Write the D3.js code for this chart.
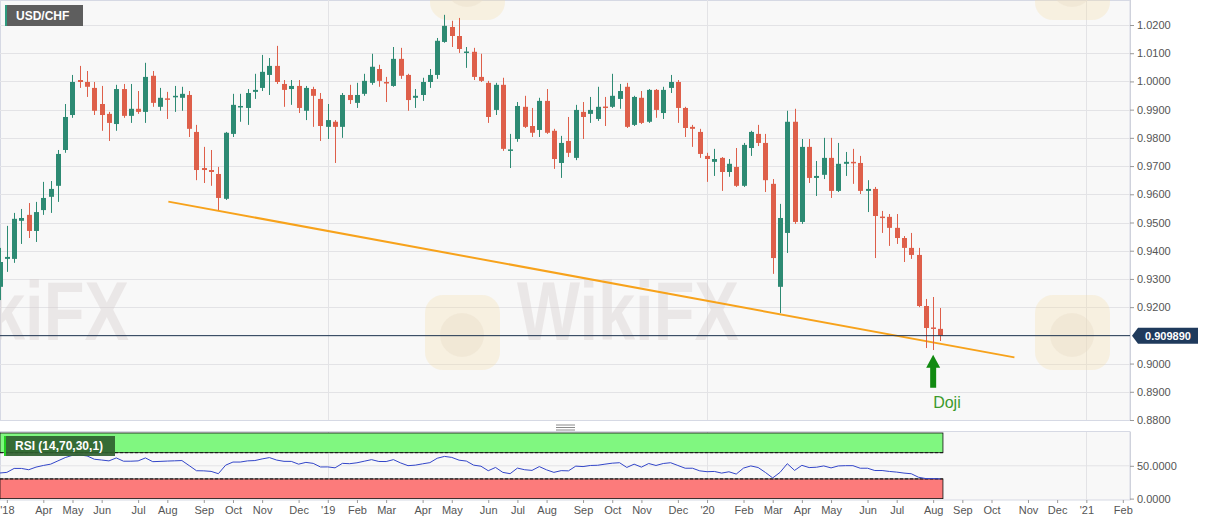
<!DOCTYPE html>
<html>
<head>
<meta charset="utf-8">
<script src="https://cdn.jsdelivr.net/npm/d3@7"></script>
<style>
  body { margin: 0; background: #fff; }
  svg { display: block; font-family: Arial, "Liberation Sans", sans-serif; }
</style>
</head>
<body>
<div id="chart"></div>
<script>
// ---- data (weekly USD/CHF) ----
var symbol = 'USD/CHF';
var firstWeek = '2018-02-19';
// [open, high, low, close], one row per weekly bar
var ohlc = [
  [0.9272, 0.9410, 0.9225, 0.9360], [0.9371, 0.9488, 0.9325, 0.9378], [0.9371, 0.9534, 0.9357, 0.9513],
  [0.9506, 0.9548, 0.9424, 0.9516], [0.9527, 0.9569, 0.9445, 0.9470], [0.9470, 0.9573, 0.9431, 0.9537],
  [0.9544, 0.9644, 0.9527, 0.9587], [0.9591, 0.9647, 0.9534, 0.9619], [0.9630, 0.9757, 0.9573, 0.9743],
  [0.9757, 0.9920, 0.9747, 0.9874], [0.9881, 1.0023, 0.9871, 0.9998], [1.0005, 1.0055, 0.9977, 0.9998],
  [0.9998, 1.0037, 0.9945, 0.9981], [0.9977, 0.9998, 0.9881, 0.9896], [0.9920, 0.9984, 0.9825, 0.9881],
  [0.9885, 0.9892, 0.9789, 0.9853], [0.9849, 0.9988, 0.9825, 0.9973], [0.9973, 0.9991, 0.9871, 0.9878],
  [0.9878, 0.9991, 0.9853, 0.9903], [0.9903, 0.9966, 0.9885, 0.9892], [0.9892, 1.0066, 0.9853, 1.0016],
  [1.0020, 1.0037, 0.9910, 0.9924], [0.9910, 0.9977, 0.9896, 0.9942], [0.9940, 0.9963, 0.9867, 0.9936],
  [0.9945, 0.9984, 0.9892, 0.9949], [0.9942, 0.9981, 0.9896, 0.9956], [0.9952, 0.9966, 0.9803, 0.9832],
  [0.9821, 0.9846, 0.9650, 0.9686], [0.9693, 0.9768, 0.9640, 0.9686], [0.9686, 0.9757, 0.9630, 0.9679],
  [0.9672, 0.9697, 0.9544, 0.9587], [0.9584, 0.9821, 0.9580, 0.9818], [0.9814, 0.9956, 0.9803, 0.9917],
  [0.9910, 0.9956, 0.9857, 0.9913], [0.9906, 0.9973, 0.9846, 0.9959], [0.9963, 1.0027, 0.9938, 0.9970],
  [0.9977, 1.0094, 0.9966, 1.0034], [1.0023, 1.0083, 0.9952, 1.0055], [1.0055, 1.0126, 0.9991, 0.9998],
  [0.9991, 1.0005, 0.9910, 0.9970], [0.9973, 1.0005, 0.9917, 0.9984], [0.9984, 1.0005, 0.9888, 0.9906],
  [0.9896, 0.9984, 0.9863, 0.9977], [0.9973, 0.9981, 0.9839, 0.9949], [0.9938, 0.9959, 0.9789, 0.9842],
  [0.9839, 0.9920, 0.9796, 0.9863], [0.9857, 0.9863, 0.9711, 0.9839], [0.9839, 0.9959, 0.9800, 0.9952],
  [0.9952, 0.9988, 0.9920, 0.9934], [0.9924, 0.9995, 0.9906, 0.9952], [0.9956, 1.0027, 0.9949, 1.0002],
  [0.9995, 1.0098, 0.9988, 1.0052], [1.0044, 1.0059, 0.9981, 1.0002], [0.9998, 1.0016, 0.9927, 0.9995],
  [0.9984, 1.0122, 0.9981, 1.0080], [1.0080, 1.0119, 1.0009, 1.0020], [1.0023, 1.0027, 0.9896, 0.9934],
  [0.9942, 0.9973, 0.9906, 0.9949], [0.9952, 1.0013, 0.9931, 0.9998], [0.9998, 1.0044, 0.9977, 1.0023],
  [1.0023, 1.0154, 1.0009, 1.0144], [1.0140, 1.0236, 1.0137, 1.0197], [1.0193, 1.0215, 1.0122, 1.0161],
  [1.0161, 1.0225, 1.0101, 1.0115], [1.0103, 1.0122, 1.0048, 1.0106], [1.0105, 1.0119, 1.0005, 1.0016],
  [1.0016, 1.0098, 0.9998, 1.0002], [0.9995, 1.0002, 0.9853, 0.9874], [0.9899, 0.9995, 0.9881, 0.9988],
  [0.9988, 1.0013, 0.9754, 0.9761], [0.9755, 0.9814, 0.9693, 0.9759], [0.9796, 0.9927, 0.9786, 0.9913],
  [0.9910, 0.9949, 0.9835, 0.9839], [0.9842, 0.9906, 0.9803, 0.9818], [0.9828, 0.9942, 0.9803, 0.9931],
  [0.9931, 0.9973, 0.9814, 0.9818], [0.9825, 0.9832, 0.9690, 0.9725], [0.9711, 0.9807, 0.9658, 0.9782],
  [0.9789, 0.9874, 0.9732, 0.9747], [0.9729, 0.9917, 0.9721, 0.9899], [0.9892, 0.9927, 0.9796, 0.9874],
  [0.9885, 0.9945, 0.9853, 0.9899], [0.9867, 0.9981, 0.9860, 0.9910], [0.9911, 0.9945, 0.9842, 0.9908],
  [0.9910, 1.0027, 0.9906, 0.9949], [0.9938, 0.9991, 0.9903, 0.9966], [0.9981, 0.9995, 0.9835, 0.9839],
  [0.9846, 0.9949, 0.9842, 0.9945], [0.9942, 0.9966, 0.9849, 0.9853], [0.9857, 0.9973, 0.9853, 0.9970],
  [0.9970, 0.9973, 0.9871, 0.9899], [0.9888, 0.9981, 0.9867, 0.9970], [0.9977, 1.0023, 0.9959, 0.9998],
  [0.9998, 1.0005, 0.9853, 0.9906], [0.9906, 0.9910, 0.9803, 0.9835], [0.9839, 0.9846, 0.9768, 0.9832],
  [0.9821, 0.9832, 0.9729, 0.9743], [0.9736, 0.9747, 0.9644, 0.9725], [0.9715, 0.9761, 0.9665, 0.9725],
  [0.9729, 0.9732, 0.9612, 0.9679], [0.9679, 0.9725, 0.9662, 0.9708], [0.9697, 0.9764, 0.9626, 0.9630],
  [0.9630, 0.9782, 0.9626, 0.9775], [0.9764, 0.9825, 0.9736, 0.9821], [0.9814, 0.9846, 0.9771, 0.9782],
  [0.9782, 0.9814, 0.9608, 0.9650], [0.9637, 0.9654, 0.9318, 0.9374], [0.9272, 0.9566, 0.9179, 0.9516],
  [0.9463, 0.9896, 0.9392, 0.9857], [0.9857, 0.9903, 0.9495, 0.9502], [0.9502, 0.9796, 0.9495, 0.9768],
  [0.9768, 0.9796, 0.9640, 0.9658], [0.9658, 0.9718, 0.9594, 0.9665], [0.9669, 0.9800, 0.9654, 0.9729],
  [0.9729, 0.9800, 0.9587, 0.9612], [0.9612, 0.9782, 0.9608, 0.9708], [0.9708, 0.9750, 0.9665, 0.9715],
  [0.9715, 0.9761, 0.9637, 0.9711], [0.9711, 0.9736, 0.9601, 0.9612], [0.9612, 0.9650, 0.9537, 0.9619],
  [0.9619, 0.9626, 0.9374, 0.9523], [0.9521, 0.9541, 0.9463, 0.9518], [0.9520, 0.9530, 0.9417, 0.9481],
  [0.9481, 0.9530, 0.9424, 0.9445], [0.9445, 0.9452, 0.9360, 0.9410], [0.9410, 0.9463, 0.9371, 0.9385],
  [0.9385, 0.9410, 0.9200, 0.9204], [0.9204, 0.9229, 0.9055, 0.9126], [0.9128, 0.9236, 0.9048, 0.9124],
  [0.9123, 0.9197, 0.9080, 0.9099]
];
// RSI (14) per bar, same order
var rsi = [
  39, 40, 46, 46, 44, 48, 50.5, 52.5, 57.5, 62.5,
  66, 66.5, 65, 60, 58.8, 57.5, 62, 57, 57, 57.5,
  62, 56.3, 56.7, 57.2, 57.6, 58, 50.3, 42.5, 42.3, 41.5,
  38, 51, 55.7, 55.7, 57.5, 58, 60.5, 62.5, 58.7, 56.8,
  56.7, 52.5, 55.2, 53.7, 48.2, 48.3, 46.9, 53.7, 53.2, 54.6,
  57, 59.4, 56.6, 56.5, 59.4, 54.3, 50.2, 51, 53, 54.8,
  61.5, 64.3, 62.8, 58.6, 57.2, 51, 49.4, 42.5, 47.5, 40,
  38, 46.5, 44, 43, 48.8, 43.8, 40, 42.6, 42.3, 49.5,
  48.8, 50.5, 50.8, 52.5, 54, 54.7, 47.5, 52.5, 48, 53.5,
  50.5, 53.5, 54.7, 50.5, 46.3, 46.3, 42.3, 41, 41.4, 38.9,
  40.9, 37.4, 46.5, 49.8, 47.4, 39.9, 31.5, 39.9, 53.2, 43,
  50.7, 47.3, 47.8, 49.8, 46.8, 49.8, 50.2, 50.2, 46.3, 46.3,
  42.8, 42.8, 41.4, 40.4, 38.9, 37.9, 32.5, 30.5, 30.5, 30
];
var lastPrice = 0.909890;
var priceTicks = [0.88, 0.89, 0.90, 0.91, 0.92, 0.93, 0.94, 0.95, 0.96, 0.97, 0.98, 0.99, 1.00, 1.01, 1.02];
var rsiTicks = [0, 50];
var rsiLevels = [30, 70];
var trendDates = ['2018-07-31', '2020-10-20'];
var trendPrices = [0.9574, 0.9022];
var dojiWeek = '2020-08-03';
var dojiPrice = 0.9031;

var svgWidth = 1207;
var svgHeight = 526;
var plotRight = 1130;
var main = { top: 0, bottom: 420 };
var pane = { top: 432, bottom: 500 };

var green = '#2d8a73';
var red = '#de5f4a';

var parse = d3.timeParse('%Y-%m-%d');
var start = parse(firstWeek);
var weeks = d3.timeMonday.range(start, d3.timeMonday.offset(start, ohlc.length));
var bars = ohlc.map(function(d, i) {
  return { date: weeks[i], o: d[0], h: d[1], l: d[2], c: d[3], rsi: rsi[i] };
});

var svg = d3.select('#chart')
  .append('svg')
  .attr('width', svgWidth)
  .attr('height', svgHeight);

// Scales: one bar per week, evenly spaced
var x = d3.scaleTime()
  .domain([new Date(2018, 0, 1), new Date(2021, 1, 1)])
  .range([-51.5, 1122.8]);

var y = d3.scaleLinear()
  .domain([0.88, 1.02])
  .range([main.bottom, 25]);

var yR = d3.scaleLinear()
  .domain([0, 100])
  .range([498.6, 433]);

// month ticks sit on the bar holding the first trading day of the month
var monthStart = d3.timeMonth.range(new Date(2018, 2, 1), new Date(2021, 2, 1));
var monthTicks = monthStart.map(function(m) {
  var d = m;
  while (d.getDay() === 0 || d.getDay() === 6) d = d3.timeDay.offset(d, 1);
  return d3.timeMonday.floor(d);
});
var yearTicks = monthTicks.filter(function(d, i) { return monthStart[i].getMonth() === 0; });

svg.append('clipPath').attr('id', 'clipMain')
  .append('rect').attr('x', 0).attr('y', main.top).attr('width', plotRight).attr('height', main.bottom - main.top);
svg.append('clipPath').attr('id', 'clipPane')
  .append('rect').attr('x', 0).attr('y', pane.top).attr('width', plotRight).attr('height', pane.bottom - pane.top);

// Panel backgrounds
svg.append('rect')
  .attr('x', 0.5).attr('y', 0.5).attr('width', plotRight - 0.5).attr('height', main.bottom)
  .attr('fill', '#f8f8f8').attr('stroke', '#d6d9e4');
svg.append('rect')
  .attr('x', 0.5).attr('y', pane.top - 0.5).attr('width', plotRight - 0.5).attr('height', pane.bottom - pane.top + 0.5)
  .attr('fill', '#f8f8f8').attr('stroke', '#d6d9e4');

// Gridlines
var grid = svg.append('g').attr('clip-path', 'url(#clipMain)');
grid.selectAll('.hgrid')
  .data(priceTicks)
  .enter()
  .append('line')
  .attr('x1', 0).attr('x2', plotRight)
  .attr('y1', d => Math.round(y(d)) + 0.5).attr('y2', d => Math.round(y(d)) + 0.5)
  .attr('stroke', '#e3e3e6');
grid.selectAll('.vgrid')
  .data(yearTicks)
  .enter()
  .append('line')
  .attr('x1', d => Math.round(x(d)) + 0.5).attr('x2', d => Math.round(x(d)) + 0.5)
  .attr('y1', 0).attr('y2', main.bottom)
  .attr('stroke', '#e3e3e6');

// Watermarks (logo tiles, with the word where it shows inside the plot)
var wm = svg.append('g').attr('clip-path', 'url(#clipMain)').attr('pointer-events', 'none');
[[-185, 295, true], [425, 295, true], [1035, 295, false], [430, -55, false], [1035, -55, false]].forEach(function(p) {
  var g = wm.append('g').attr('transform', 'translate(' + p[0] + ',' + p[1] + ')');
  g.append('rect').attr('width', 75).attr('height', 75).attr('rx', 18)
    .attr('fill', '#f6dfa8').attr('opacity', 0.3);
  g.append('circle').attr('cx', 37).attr('cy', 40).attr('r', 22)
    .attr('fill', '#e8dcc8').attr('opacity', 0.4);
  if (p[2]) {
    g.append('text').attr('x', 92).attr('y', 45)
      .attr('font-size', 84).attr('font-weight', 'bold')
      .attr('textLength', 222).attr('lengthAdjust', 'spacingAndGlyphs')
      .attr('fill', '#d6cccc').attr('opacity', 0.38)
      .text('WikiFX');
  }
});

// Trendline
var trend = trendDates.map(function(d, i) { return { date: parse(d), p: trendPrices[i] }; });
svg.append('path')
  .datum(trend)
  .attr('clip-path', 'url(#clipMain)')
  .attr('d', d3.line().x(d => x(d.date)).y(d => y(d.p)))
  .attr('stroke', '#f7a21b')
  .attr('stroke-width', 2)
  .attr('fill', 'none');

// Candles
var candles = svg.append('g').attr('clip-path', 'url(#clipMain)')
  .selectAll('g')
  .data(bars)
  .enter()
  .append('g');

candles.append('line')
  .attr('x1', d => Math.round(x(d.date)) + 0.5)
  .attr('x2', d => Math.round(x(d.date)) + 0.5)
  .attr('y1', d => y(d.h))
  .attr('y2', d => y(d.l))
  .attr('stroke', d => d.c >= d.o ? green : red);

candles.append('rect')
  .attr('x', d => Math.round(x(d.date)) - 2)
  .attr('y', d => y(Math.max(d.o, d.c)))
  .attr('width', 5)
  .attr('height', d => Math.max(1.5, Math.abs(y(d.o) - y(d.c))))
  .attr('fill', d => d.c >= d.o ? green : red);

// Last price line
svg.append('line')
  .attr('x1', 0).attr('x2', plotRight)
  .attr('y1', y(lastPrice)).attr('y2', y(lastPrice))
  .attr('stroke', '#1d3350');

// Right price axis (the label under the last-price tag is hidden)
var rightAxis = d3.axisRight(y)
  .tickValues(priceTicks.filter(d => Math.abs(y(d) - y(lastPrice)) > 12))
  .tickFormat(d3.format('.4f'))
  .tickSize(4)
  .tickPadding(3);
var ra = svg.append('g')
  .attr('transform', 'translate(' + plotRight + ',0)')
  .call(rightAxis);
ra.select('.domain').attr('stroke', '#cfd2dc').attr('d', 'M0.5,0V' + main.bottom);
ra.selectAll('.tick line').attr('stroke', '#999');
ra.selectAll('.tick text').attr('fill', '#555').attr('font-size', 11);

// Last price label
var py = y(lastPrice);
var lab = svg.append('g').attr('transform', 'translate(' + plotRight + ',' + py + ')');
lab.append('path')
  .attr('d', 'M2,0 L8,-8 H68 V8 H8 Z')
  .attr('fill', '#1f3a5c');
lab.append('text')
  .attr('x', 38).attr('y', 4)
  .attr('text-anchor', 'middle')
  .attr('font-size', 11).attr('font-weight', 'bold')
  .attr('fill', '#fff')
  .text(d3.format('.6f')(lastPrice));

// Symbol label
svg.append('rect').attr('x', 5).attr('y', 5).attr('width', 78).attr('height', 21).attr('fill', '#5e5e5e');
svg.append('rect').attr('x', 5).attr('y', 5).attr('width', 2).attr('height', 21).attr('fill', '#2e9a7e');
svg.append('text')
  .attr('x', 16).attr('y', 20)
  .attr('font-size', 12).attr('font-weight', 'bold')
  .attr('fill', '#fff')
  .text(symbol);

// Doji annotation
var ax = x(parse(dojiWeek));
var ay = y(dojiPrice);
svg.append('path')
  .attr('d', 'M' + ax + ',' + ay + ' l7,13 h-4 v20 h-6 v-20 h-4 Z')
  .attr('fill', '#118a11');
svg.append('text')
  .attr('x', ax).attr('y', ay + 53)
  .attr('font-size', 16)
  .attr('fill', '#3c9a2c')
  .text('Doji');

// Pane divider handle
[425, 427.5, 430].forEach(function(hy) {
  svg.append('line').attr('x1', 556).attr('x2', 575).attr('y1', hy).attr('y2', hy)
    .attr('stroke', '#8a8a8a');
});

// ---- RSI pane ----
var paneG = svg.append('g').attr('clip-path', 'url(#clipPane)');
var lastX = x(bars[bars.length - 1].date) + 2.5;

paneG.selectAll('.rgrid')
  .data([50])
  .enter()
  .append('line')
  .attr('x1', 0).attr('x2', plotRight)
  .attr('y1', d => yR(d)).attr('y2', d => yR(d))
  .attr('stroke', '#e3e3e6');
paneG.selectAll('.rvgrid')
  .data(yearTicks)
  .enter()
  .append('line')
  .attr('x1', d => Math.round(x(d)) + 0.5).attr('x2', d => Math.round(x(d)) + 0.5)
  .attr('y1', pane.top).attr('y2', pane.bottom)
  .attr('stroke', '#e3e3e6');

// overbought / oversold zones
paneG.append('rect')
  .attr('x', 0).attr('y', yR(100)).attr('width', lastX).attr('height', yR(rsiLevels[1]) - yR(100))
  .attr('fill', '#80f780').attr('stroke', '#111').attr('stroke-width', 0.8);
paneG.append('rect')
  .attr('x', 0).attr('y', yR(rsiLevels[0])).attr('width', lastX).attr('height', yR(0) - yR(rsiLevels[0]))
  .attr('fill', '#fc7b7b').attr('stroke', '#111').attr('stroke-width', 0.8);
paneG.selectAll('.lvl')
  .data(rsiLevels)
  .enter()
  .append('line')
  .attr('x1', 0).attr('x2', lastX)
  .attr('y1', d => yR(d)).attr('y2', d => yR(d))
  .attr('stroke', '#111')
  .attr('stroke-dasharray', '3,2');

paneG.append('path')
  .datum(bars)
  .attr('d', d3.line().x(d => x(d.date)).y(d => yR(d.rsi)))
  .attr('fill', 'none')
  .attr('stroke', '#3346c9')
  .attr('stroke-width', 1);

// RSI label
svg.append('rect').attr('x', 4).attr('y', 436).attr('width', 111).attr('height', 20)
  .attr('fill', '#2f5f2f').attr('opacity', 0.92);
svg.append('rect').attr('x', 4).attr('y', 436).attr('width', 2).attr('height', 20).attr('fill', '#22d022');
svg.append('text')
  .attr('x', 15).attr('y', 450)
  .attr('font-size', 12).attr('font-weight', 'bold')
  .attr('fill', '#fff')
  .text('RSI (14,70,30,1)');

var rsiAxis = d3.axisRight(yR)
  .tickValues(rsiTicks)
  .tickFormat(d3.format('.4f'))
  .tickSize(4)
  .tickPadding(3);
var rr = svg.append('g')
  .attr('transform', 'translate(' + plotRight + ',0)')
  .call(rsiAxis);
rr.select('.domain').attr('stroke', '#cfd2dc').attr('d', 'M0.5,' + pane.top + 'V' + pane.bottom);
rr.selectAll('.tick line').attr('stroke', '#999');
rr.selectAll('.tick text').attr('fill', '#555').attr('font-size', 11);

// ---- Time axis ----
var fmtMonth = d3.timeFormat('%b');
var bottomAxis = d3.axisBottom(x)
  .tickValues(monthTicks)
  .tickSize(3)
  .tickPadding(3)
  .tickFormat(function(d, i) {
    var m = monthStart[i];
    if (i === 0 || m.getMonth() === 0) return "'" + d3.timeFormat('%y')(m);
    return fmtMonth(m);
  });
var ba = svg.append('g')
  .attr('transform', 'translate(0,' + pane.bottom + ')')
  .call(bottomAxis);
ba.select('.domain').remove();
ba.selectAll('.tick line').attr('stroke', '#999');
ba.selectAll('.tick text').attr('fill', '#555').attr('font-size', 11);
</script>
</body>
</html>
